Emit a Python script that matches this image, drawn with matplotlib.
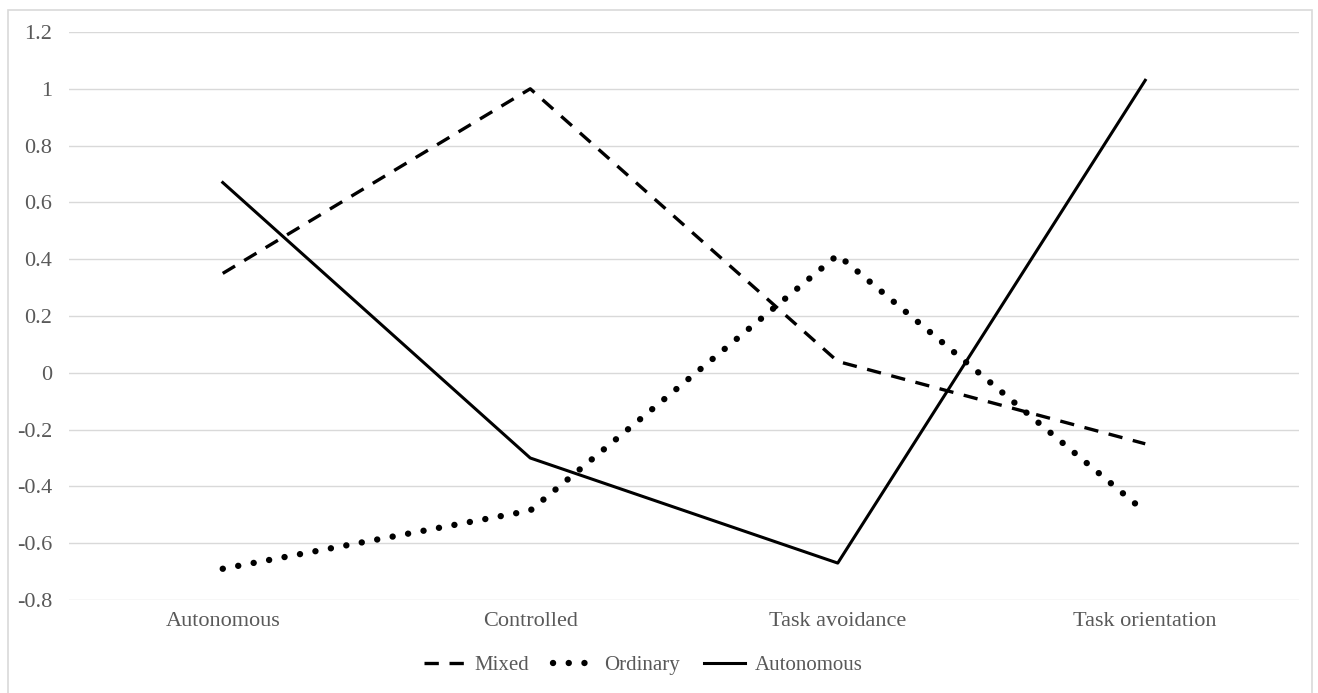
import matplotlib.pyplot as plt
from matplotlib.patches import Rectangle

categories = ['Autonomous', 'Controlled', 'Task avoidance', 'Task orientation']
mixed = [0.35, 1.0, 0.04, -0.25]
ordinary = [-0.69, -0.485, 0.415, -0.49]
autonomous = [0.67, -0.30, -0.67, 1.03]
yticks = [-0.8, -0.6, -0.4, -0.2, 0, 0.2, 0.4, 0.6, 0.8, 1, 1.2]
ylabels = ['-0.8', '-0.6', '-0.4', '-0.2', '0', '0.2', '0.4', '0.6', '0.8', '1', '1.2']

plt.rcParams['font.family'] = ['Liberation Serif', 'DejaVu Serif']
W, H = 1318, 693
fig = plt.figure(figsize=(W / 100, H / 100), dpi=100)
fig.patches.append(Rectangle((8 / W, -0.1), 1304 / W, 1.1 - 10 / H, transform=fig.transFigure,
                             fill=False, edgecolor='#d9d9d9', linewidth=1.2))
ax = fig.add_axes([69 / W, 1 - 600 / H, 1230 / W, 568 / H])

x = range(len(categories))
ax.plot(x, mixed, color='black', lw=2.4, linestyle=(0, (4.3, 3.2)), label='Mixed')
ax.plot(x, ordinary, color='black', lw=4.6, linestyle=(0, (0.01, 2.45)),
        dash_capstyle='round', label='Ordinary')
ax.plot(x, autonomous, color='black', lw=2.2, label='Autonomous')

ax.set_xlim(-0.5, 3.5)
ax.set_ylim(-0.8, 1.2)
ax.set_xticks(list(x))
ax.set_xticklabels(categories)
ax.set_yticks(yticks)
ax.set_yticklabels(ylabels)
ax.tick_params(axis='both', length=0, labelsize=16, colors='#595959')
ax.tick_params(axis='y', pad=12)
ax.tick_params(axis='x', pad=9)
ax.grid(axis='y', color='#d9d9d9', lw=1)
ax.set_axisbelow(True)
for s in ax.spines.values():
    s.set_visible(False)

leg = ax.legend(loc='center', bbox_to_anchor=(0.467, -0.115), ncol=3, frameon=False,
                fontsize=15, handlelength=1.95, handletextpad=0.5, columnspacing=1.15)
for t in leg.get_texts():
    t.set_color('#595959')

fig.savefig('out.png', dpi=100)
